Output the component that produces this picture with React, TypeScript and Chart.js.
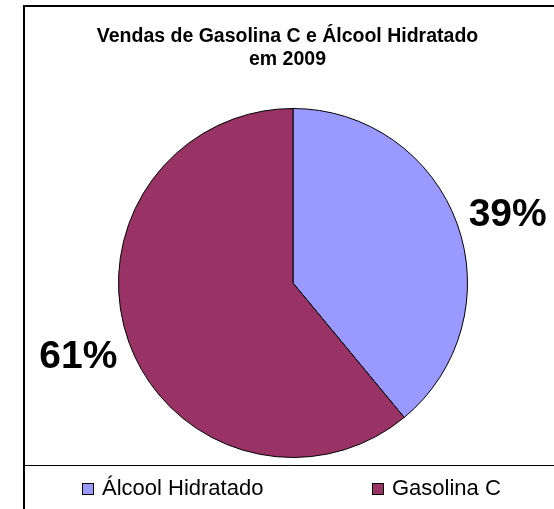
import React, { useEffect, useRef } from "react";
import { Chart, registerables } from "chart.js";

Chart.register(...registerables);

const titleLines = ["Vendas de Gasolina C e Álcool Hidratado", "em 2009"];
const categories = ["Álcool Hidratado", "Gasolina C"];
const shares = [39, 61];
const colors = ["#9999FF", "#993366"];

const FONT = "'Liberation Sans', Arial, sans-serif";

const decorPlugin = {
  id: "decor",
  beforeDraw(chart: any) {
    const ctx = chart.ctx;
    ctx.save();
    ctx.fillStyle = "#ffffff";
    ctx.fillRect(0, 0, chart.width, chart.height);
    ctx.restore();
  },
  afterDraw(chart: any) {
    const ctx = chart.ctx;
    ctx.save();
    // frame
    ctx.strokeStyle = "#000";
    ctx.lineWidth = 2;
    ctx.strokeRect(24, 6, 600, 600);
    ctx.lineWidth = 1;
    ctx.beginPath();
    ctx.moveTo(24, 465.5);
    ctx.lineTo(560, 465.5);
    ctx.stroke();
    // title
    ctx.fillStyle = "#000";
    ctx.font = `bold 19.5px ${FONT}`;
    ctx.textAlign = "center";
    ctx.textBaseline = "alphabetic";
    ctx.fillText(titleLines[0], 287.5, 42);
    ctx.fillText(titleLines[1], 287.5, 65);
    // percent labels
    const meta = chart.getDatasetMeta(0);
    const total = shares.reduce((a, b) => a + b, 0);
    ctx.font = `bold 39px ${FONT}`;
    meta.data.forEach((arc: any, i: number) => {
      const { x, y, startAngle, endAngle } = arc.getProps(["x", "y", "startAngle", "endAngle"], true);
      const mid = (startAngle + endAngle) / 2 + 0.028;
      const r = 226;
      const tx = x + Math.cos(mid) * r;
      const ty = y + Math.sin(mid) * r;
      ctx.fillText(Math.round((shares[i] / total) * 100) + "%", tx, ty + 14);
    });
    // legend
    const legendX = [82, 372];
    ctx.font = `22px ${FONT}`;
    ctx.textAlign = "left";
    categories.forEach((c, i) => {
      ctx.fillStyle = colors[i];
      ctx.fillRect(legendX[i] + 0.5, 483.5, 11, 11);
      ctx.strokeStyle = "#000";
      ctx.lineWidth = 1;
      ctx.strokeRect(legendX[i] + 0.5, 483.5, 11, 11);
      ctx.fillStyle = "#000";
      ctx.fillText(c, legendX[i] + 20, 495);
    });
    ctx.restore();
  },
};

export default function App() {
  const ref = useRef<HTMLCanvasElement>(null);
  useEffect(() => {
    document.body.style.margin = "0";
    const chart = new Chart(ref.current!, {
      type: "pie",
      data: {
        labels: categories,
        datasets: [
          {
            data: shares,
            backgroundColor: colors,
            borderColor: "#000",
            borderWidth: 1,
          },
        ],
      },
      options: {
        animation: false,
        responsive: false,
        layout: { padding: { left: 118, right: 86, top: 108, bottom: 51 } },
        plugins: {
          legend: { display: false },
          title: { display: false },
          tooltip: { enabled: false },
        },
      },
      plugins: [decorPlugin],
    });
    return () => chart.destroy();
  }, []);
  return (
    <div style={{ width: 554, height: 509 }}>
      <canvas ref={ref} width={554} height={509} style={{ display: "block" }} />
    </div>
  );
}
